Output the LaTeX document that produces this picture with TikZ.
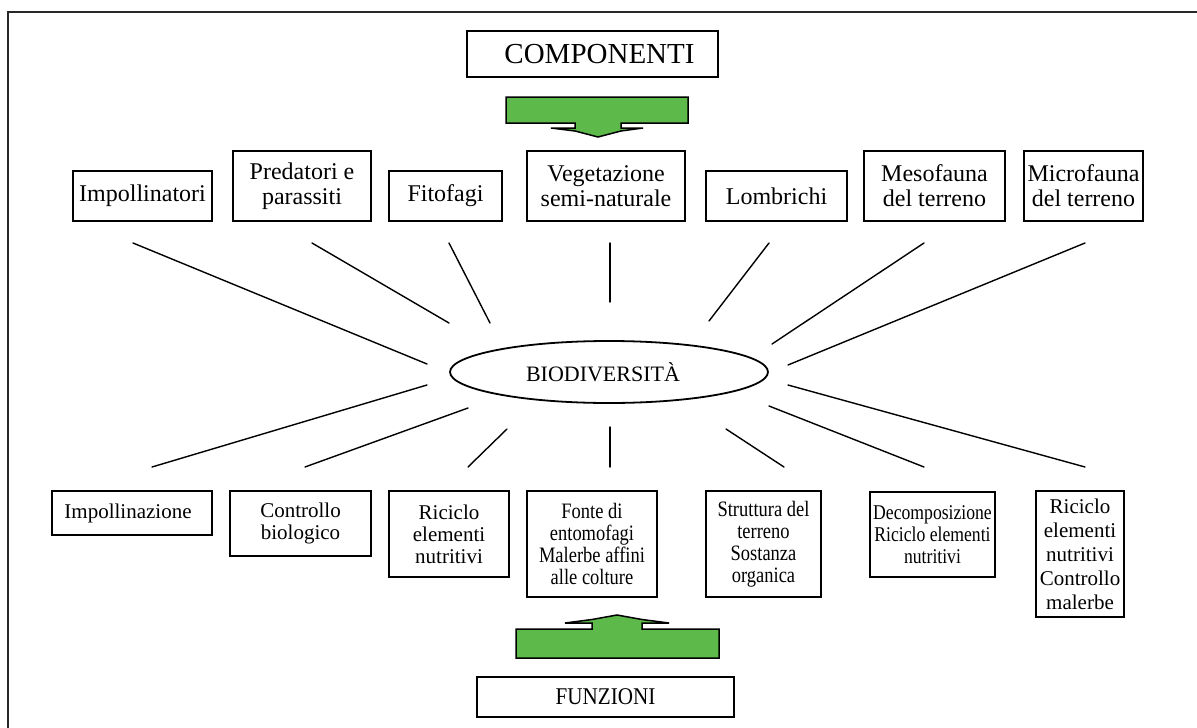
\documentclass[tikz,border=0pt]{standalone}
\usepackage{fontspec}
\setmainfont{Liberation Serif}
\newfontfamily\condfont[FakeStretch=0.84]{Liberation Serif}
\newfontfamily\funzfont[FakeStretch=0.88]{Liberation Serif}
\usetikzlibrary{shapes.geometric}
\definecolor{arrowgreen}{RGB}{92,185,74}
\definecolor{framegray}{RGB}{40,40,40}
\tikzset{
  box/.style={draw, line width=1.5pt, fill=white, inner sep=0pt, align=center,
    font=\fontsize{24}{25}\selectfont},
  lowbox/.style={box, font=\fontsize{21}{22}\selectfont},
  condbox/.style={box, font=\condfont\fontsize{22}{22}\selectfont},
  ray/.style={line width=1.4pt, line cap=round},
  greenarrow/.style={fill=arrowgreen, draw=black, line width=1.5pt, line join=miter},
}
\begin{document}
\begin{tikzpicture}[x=1pt, y=-1pt]
\useasboundingbox (0,0) rectangle (1197,728);
\fill[white] (0,0) rectangle (1197,728);
% outer frame (top and left only)
\draw[framegray, line width=1.5pt] (8,728) -- (8,12) -- (1197,12);

% title boxes
\node[box, minimum width=251pt, minimum height=46pt, font=\fontsize{29}{29}\selectfont] (comp) at (592.5,54) {\hspace*{14pt}COMPONENTI};
\node[box, minimum width=257pt, minimum height=40pt, font=\funzfont\fontsize{24}{24}\selectfont] (funz) at (605.5,697) {FUNZIONI};

% green arrows
\draw[greenarrow] (506,97) -- (688,97) -- (688,123) -- (621,123) -- (621,128) -- (643,128)
  -- (621,131) -- (598,137) -- (575,131) -- (551,128) -- (575,128) -- (575,123) -- (506,123) -- cycle;
\draw[greenarrow] (516,658) -- (719,658) -- (719,629) -- (642,629) -- (642,623) -- (669,623)
  -- (642,619.5) -- (617,615) -- (592,619.5) -- (565,623) -- (592,623) -- (592,629) -- (516,629) -- cycle;

% top row: components
\node[box, minimum width=139pt, minimum height=50pt] (imp) at (142.5,196) {Impollinatori};
\node[box, minimum width=138pt, minimum height=70pt] (pred) at (302,186) {Predatori e\\parassiti};
\node[box, minimum width=113pt, minimum height=50pt] (fito) at (445.5,196) {Fitofagi};
\node[box, minimum width=158pt, minimum height=70pt] (veg) at (606,186) {Vegetazione\\semi-naturale};
\node[box, minimum width=141pt, minimum height=50pt] (lomb) at (776.5,196) {Lombrichi};
\node[box, minimum width=141pt, minimum height=70pt] (meso) at (934.5,186) {Mesofauna\\del terreno};
\node[box, minimum width=119pt, minimum height=70pt] (micro) at (1083.5,186) {Microfauna\\del terreno};

% bottom row: functions
\node[lowbox, minimum width=160pt, minimum height=44pt] (impz) at (132,513) {Impollinazione\hspace*{8pt}};
\node[lowbox, minimum width=141pt, minimum height=65pt] (contr) at (300.5,523.5) {Controllo\\biologico};
\node[lowbox, minimum width=120pt, minimum height=86pt] (ric) at (449,534) {Riciclo\\elementi\\nutritivi};
\node[condbox, minimum width=130pt, minimum height=106pt] (fonte) at (592,544) {Fonte di\\entomofagi\\Malerbe affini\\alle colture};
\node[condbox, minimum width=115pt, minimum height=106pt] (strut) at (763.5,544) {Struttura del\\terreno\\Sostanza\\organica};
\node[condbox, minimum width=125pt, minimum height=85pt, font=\condfont\fontsize{21}{22}\selectfont] (decomp) at (932.5,534.5) {Decomposizione\\Riciclo elementi\\nutritivi};
\node[box, minimum width=88pt, minimum height=126pt, font=\fontsize{21}{24}\selectfont] (last) at (1080,554) {Riciclo\\elementi\\nutritivi\\Controllo\\malerbe};

% central ellipse
\node[draw, ellipse, line width=1.8pt, fill=white, minimum width=318pt, minimum height=62pt,
  inner sep=0pt, font=\fontsize{22}{22}\selectfont] (bio) at (609,372) {BIODIVERSITÀ\hspace*{12pt}};

% ray end points
\coordinate (t1a) at (133,243); \coordinate (t1b) at (427,364);
\coordinate (t2a) at (312,243); \coordinate (t2b) at (449,323);
\coordinate (t3a) at (449,243); \coordinate (t3b) at (490,323);
\coordinate (t4a) at (610,243); \coordinate (t4b) at (610,302);
\coordinate (t5a) at (769,243); \coordinate (t5b) at (709,321);
\coordinate (t6a) at (924,243); \coordinate (t6b) at (772,344);
\coordinate (t7a) at (1085,243); \coordinate (t7b) at (788,365);
\coordinate (b1a) at (427,385); \coordinate (b1b) at (152,467);
\coordinate (b2a) at (468,408); \coordinate (b2b) at (305,467);
\coordinate (b3a) at (507,429); \coordinate (b3b) at (468,467);
\coordinate (b4a) at (610,427); \coordinate (b4b) at (610,467);
\coordinate (b5a) at (726,429); \coordinate (b5b) at (784,467);
\coordinate (b6a) at (769,406); \coordinate (b6b) at (924,467);
\coordinate (b7a) at (788,385); \coordinate (b7b) at (1085,467);

\foreach \r in {t1,t2,t3,t4,t5,t6,t7,b1,b2,b3,b4,b5,b6,b7}
  \draw[ray] (\r a) -- (\r b);
\end{tikzpicture}
\end{document}
